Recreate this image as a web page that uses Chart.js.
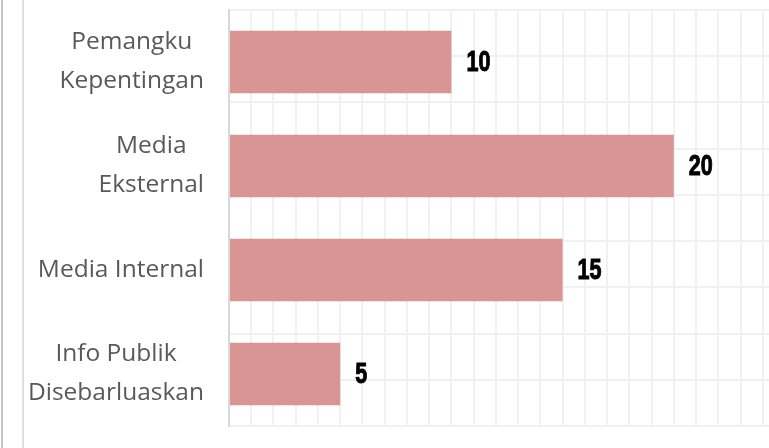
<!DOCTYPE html>
<html>
<head>
<meta charset="utf-8">
<script src="https://cdn.jsdelivr.net/npm/chart.js@4/dist/chart.umd.min.js"></script>
<style>
    html, body { margin: 0; padding: 0; background: #fff; }
    #wrap { position: relative; width: 769px; height: 448px; overflow: hidden; }
    #wrap canvas { position: absolute; left: 0; top: 0; }
    .edge { position: absolute; top: 0; bottom: 0; }
    .edge.outer { left: 1px; width: 2px; background: #c4c4c4; }
    .edge.inner { left: 22px; width: 2px; background: #e0e0e0; }
</style>
</head>
<body>
<div id="wrap">
    <div class="edge outer"></div>
    <div class="edge inner"></div>
    <canvas id="chart" width="800" height="448"></canvas>
</div>
<script>
const categories = [
    ['Pemangku', 'Kepentingan'],
    ['Media', 'Eksternal'],
    ['Media Internal'],
    ['Info Publik', 'Disebarluaskan'],
];
const values = [10, 20, 15, 5];
const xMax = 25;

const GRID = '#f1f1f1';

// category labels: lines centred on each other, block right-aligned next to the axis
const catLabels = {
    id: 'catLabels',
    afterDraw(chart) {
        const { ctx, chartArea } = chart;
        const y = chart.scales.y;
        const lineH = 39;
        ctx.save();
        ctx.font = '24.5px "Open Sans", "Noto Sans", sans-serif';
        ctx.fillStyle = '#595959';
        ctx.textBaseline = 'middle';
        ctx.textAlign = 'center';
        categories.forEach((lines, i) => {
            const cy = y.getPixelForValue(i);
            const w = Math.max(...lines.map((l) => ctx.measureText(l).width));
            const cx = chartArea.left - 25 - w / 2;
            lines.forEach((l, k) => {
                ctx.fillText(l, cx, cy + (k - (lines.length - 1) / 2) * lineH);
            });
        });
        ctx.restore();
    },
};

// value labels just past the bar end, squeezed to look condensed
const valueLabels = {
    id: 'valueLabels',
    afterDatasetsDraw(chart) {
        const { ctx } = chart;
        const meta = chart.getDatasetMeta(0);
        const sx = 0.72;
        ctx.save();
        ctx.font = 'bold 30px "Liberation Sans", Arial, sans-serif';
        ctx.fillStyle = '#000';
        ctx.strokeStyle = '#000';
        ctx.lineWidth = 1;
        ctx.textBaseline = 'middle';
        ctx.textAlign = 'left';
        meta.data.forEach((bar, i) => {
            ctx.save();
            ctx.translate(bar.x + 15, bar.y + 1);
            ctx.scale(sx, 1);
            ctx.fillText(String(values[i]), 0, 0);
            ctx.strokeText(String(values[i]), 0, 0);
            ctx.restore();
        });
        ctx.restore();
    },
};

new Chart(document.getElementById('chart'), {
    type: 'bar',
    data: {
        labels: categories,
        datasets: [{
            data: values,
            backgroundColor: '#d99594',
            borderWidth: 0,
            barPercentage: 0.6,
            categoryPercentage: 1,
        }],
    },
    options: {
        indexAxis: 'y',
        responsive: false,
        animation: false,
        layout: { padding: { left: 229, top: 10, bottom: 22, right: 15 } },
        plugins: { legend: { display: false }, tooltip: { enabled: false } },
        scales: {
            x: {
                min: 0,
                max: xMax,
                ticks: { display: false, stepSize: 1 },
                grid: { color: GRID, lineWidth: 2, drawTicks: false },
                border: { display: false },
            },
            y: {
                ticks: { display: false },
                grid: { display: false },
                border: { color: '#d9d9d9', width: 2 },
                afterFit: (s) => { s.width = 0; },
            },
            yGrid: {
                type: 'linear',
                position: 'right',
                min: 0,
                max: 8,
                ticks: { display: false, stepSize: 1 },
                grid: { color: GRID, lineWidth: 2, drawTicks: false },
                border: { display: false },
                afterFit: (s) => { s.width = 0; },
            },
        },
    },
    plugins: [catLabels, valueLabels],
});
</script>
</body>
</html>
